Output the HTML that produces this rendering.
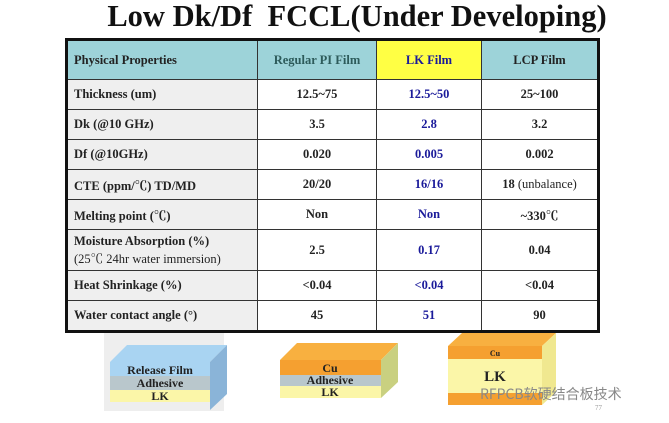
<!DOCTYPE html>
<html><head><meta charset="utf-8"><style>
body{margin:0;width:669px;height:423px;background:#fff;position:relative;overflow:hidden;font-family:"Liberation Serif","Noto Serif CJK SC",serif}
#title{position:absolute;left:0;width:714px;top:-1px;text-align:center;font-weight:bold;font-size:30.5px;color:#111}
table{position:absolute;left:65px;top:38px;border-collapse:collapse;border:3px solid #111;font-size:12.5px;font-weight:bold;color:#222}
td{border:1px solid #333;text-align:center;padding:0;height:29px}
td.p{text-align:left;padding-left:6px;background:#efefef}
tr.h td{background:#9dd3d9;height:38px}
tr.h td.lk{background:#ffff44;color:#1a1a9a}
.b{color:#1a1a9a}
.n{font-weight:normal}
.blk{position:absolute}
</style></head><body>
<div id="title">Low Dk/Df&nbsp; FCCL(Under Developing)</div>
<table>
<colgroup><col style="width:191px"><col style="width:119px"><col style="width:105px"><col style="width:117px"></colgroup>
<tr class="h"><td class="p" style="background:#9dd3d9">Physical Properties</td><td style="color:#2d5b5b">Regular PI Film</td><td class="lk">LK Film</td><td>LCP Film</td></tr>
<tr><td class="p">Thickness (um)</td><td>12.5~75</td><td class="b">12.5~50</td><td>25~100</td></tr>
<tr><td class="p">Dk (@10 GHz)</td><td>3.5</td><td class="b">2.8</td><td>3.2</td></tr>
<tr><td class="p">Df (@10GHz)</td><td>0.020</td><td class="b">0.005</td><td>0.002</td></tr>
<tr><td class="p">CTE (ppm/℃) TD/MD</td><td>20/20</td><td class="b">16/16</td><td>18 <span class="n">(unbalance)</span></td></tr>
<tr><td class="p">Melting point (℃)</td><td>Non</td><td class="b">Non</td><td>~330℃</td></tr>
<tr><td class="p" style="height:40px;line-height:18px">Moisture Absorption (%)<br><span class="n">(25℃ 24hr water immersion)</span></td><td>2.5</td><td class="b">0.17</td><td>0.04</td></tr>
<tr><td class="p">Heat Shrinkage (%)</td><td>&lt;0.04</td><td class="b">&lt;0.04</td><td>&lt;0.04</td></tr>
<tr><td class="p">Water contact angle (°)</td><td>45</td><td class="b">51</td><td>90</td></tr>
</table>
<svg class="blk" style="left:0;top:0" width="669" height="423">
<rect x="104" y="333" width="120" height="78" fill="#eeeeee"/>
<g>
<polygon points="110,362 127,345 227,345 210,362" fill="#a9d4f2"/>
<polygon points="210,362 227,345 227,394 210,410" fill="#8ab4d8"/>
<rect x="110" y="362" width="100" height="14" fill="#a9d4f2"/>
<rect x="110" y="376" width="100" height="14" fill="#b9c7cc"/>
<rect x="110" y="390" width="100" height="12" fill="#fbf6a8"/>
<text x="160" y="374" font-size="12" font-weight="bold" text-anchor="middle" fill="#222">Release Film</text>
<text x="160" y="387" font-size="12" font-weight="bold" text-anchor="middle" fill="#222">Adhesive</text>
<text x="160" y="400" font-size="12" font-weight="bold" text-anchor="middle" fill="#222">LK</text>
</g>
<g>
<polygon points="280,360 297,343 398,343 381,360" fill="#f8b040"/>
<polygon points="381,360 398,343 398,382 381,398" fill="#c9d080"/>
<rect x="280" y="360" width="101" height="15" fill="#f5a030"/>
<rect x="280" y="375" width="101" height="11" fill="#b9c7cc"/>
<rect x="280" y="386" width="101" height="12" fill="#fbf6a8"/>
<text x="330" y="372" font-size="12" font-weight="bold" text-anchor="middle" fill="#222">Cu</text>
<text x="330" y="384" font-size="12" font-weight="bold" text-anchor="middle" fill="#222">Adhesive</text>
<text x="330" y="396" font-size="12" font-weight="bold" text-anchor="middle" fill="#222">LK</text>
</g>
<g>
<polygon points="448,346 462,333 556,333 542,346" fill="#f8b040"/>
<polygon points="542,346 556,333 556,392 542,405" fill="#f0e890"/>
<rect x="448" y="346" width="94" height="13" fill="#f5a030"/>
<rect x="448" y="359" width="94" height="34" fill="#fbf6a8"/>
<rect x="448" y="393" width="94" height="12" fill="#f5a030"/>
<text x="495" y="356" font-size="8" font-weight="bold" text-anchor="middle" fill="#222">Cu</text>
<text x="495" y="381" font-size="15" font-weight="bold" text-anchor="middle" fill="#222">LK</text>
</g>
<text x="480" y="399" font-size="14" fill="#888" font-family="Noto Sans CJK SC,sans-serif">RFPCB软硬结合板技术</text>
<text x="595" y="410" font-size="7" fill="#999">77</text>
</svg>
</body></html>
